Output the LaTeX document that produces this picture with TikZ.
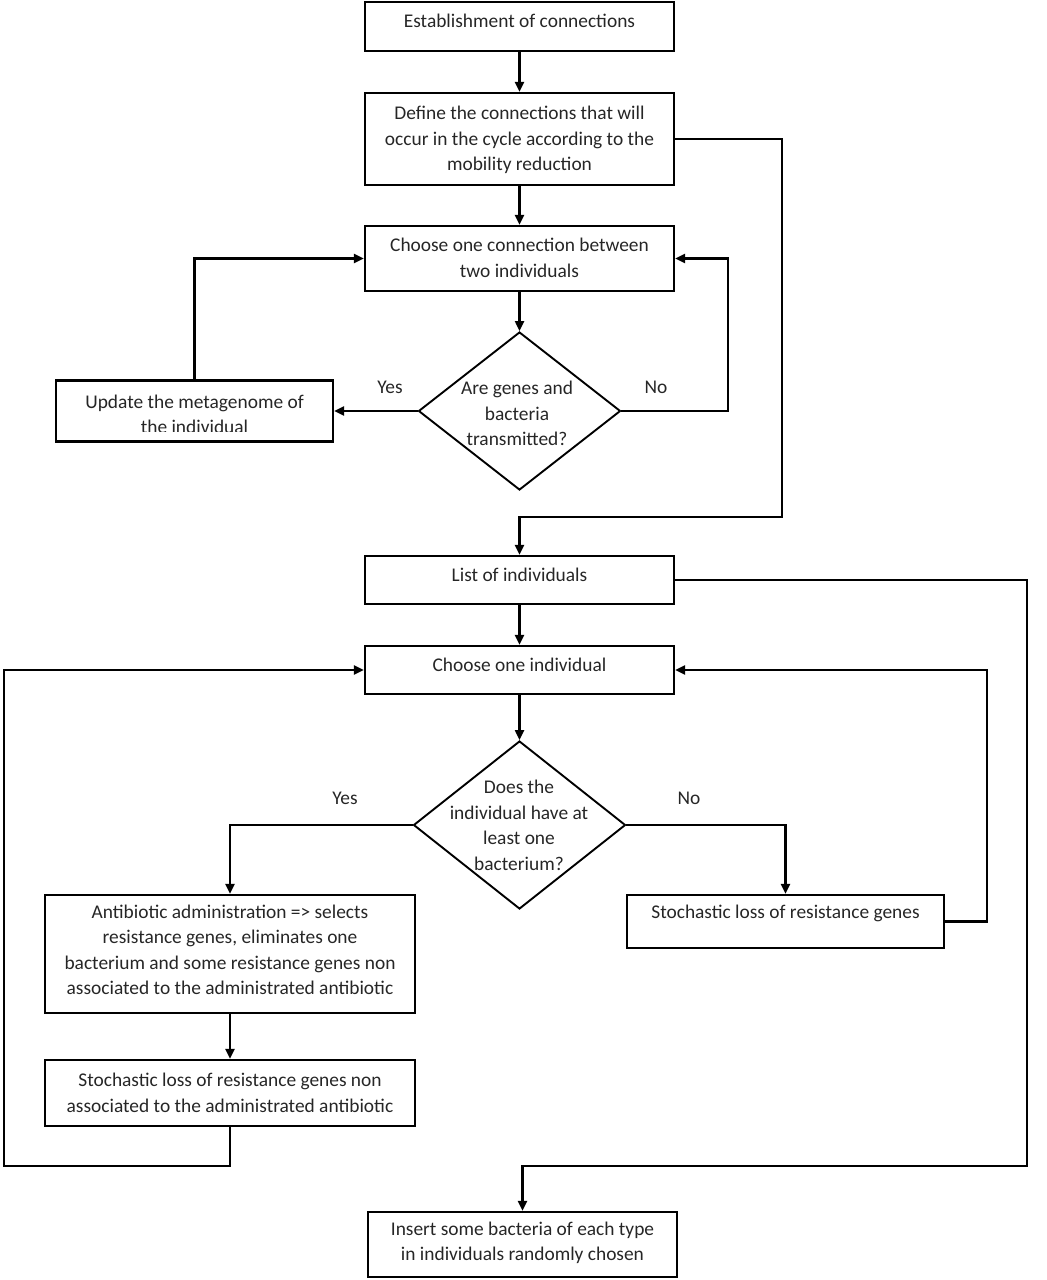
\documentclass[tikz,border=0pt]{standalone}
\usepackage{fontspec}
\setmainfont{Carlito}
\usetikzlibrary{shapes.geometric,arrows.meta}
\begin{document}
\begin{tikzpicture}[x=1pt,y=-1pt,
  box/.style={draw,line width=2.2pt,rectangle,inner sep=0pt},
  dia/.style={draw,line width=1.9pt,diamond,inner sep=0pt},
  txt/.style={font=\fontsize{19.4}{25.5}\selectfont,align=center,inner sep=0pt,text=black!85},
  lbl/.style={font=\fontsize{19.4}{25.5}\selectfont,inner sep=0pt,text=black!85},
  arr/.style={line width=2.2pt,-{Triangle[length=10pt,width=9pt]}},
  ln/.style={line width=2.2pt}]
\useasboundingbox (0,0) rectangle (1047,1280);
% boxes
\node[box,minimum width=309pt,minimum height=49pt] (b1) at (519.5,26.5) {};
\node[box,minimum width=309pt,minimum height=92pt] (b2) at (519.5,139) {};
\node[box,minimum width=309pt,minimum height=65pt] (b3) at (519.5,258.5) {};
\node[dia,minimum width=202pt,minimum height=158pt] (d1) at (519.5,411) {};
\node[box,minimum width=277pt,minimum height=61pt] (upd) at (194.5,411) {};
\node[box,minimum width=309pt,minimum height=48pt] (lst) at (519.5,580) {};
\node[box,minimum width=309pt,minimum height=48pt] (ch) at (519.5,670) {};
\node[dia,minimum width=212pt,minimum height=168pt] (d2) at (519.5,825) {};
\node[box,minimum width=317pt,minimum height=53pt] (sto) at (785.5,921.5) {};
\node[box,minimum width=370pt,minimum height=118pt] (ab) at (230,954) {};
\node[box,minimum width=370pt,minimum height=66pt] (st2) at (230,1093) {};
\node[box,minimum width=309pt,minimum height=65pt] (ins) at (522.5,1244.5) {};
% texts
\node[txt] (t1) at (519.5,21) {Establishment of connections};
\node[txt] (t2) at (519.5,140) {Define the connections that will\\occur in the cycle according to the\\mobility reduction};
\node[txt] (t3) at (519.5,258) {Choose one connection between\\two individuals};
\node[txt] (td1) at (517,413.5) {Are genes and\\bacteria\\transmitted?};
\begin{scope}
\clip (upd.north west) rectangle ([yshift=11pt]upd.south east);
\node[txt] (tupd) at (194.5,414.5) {Update the metagenome of\\the individual};
\end{scope}
\node[txt] (tl) at (519.5,575) {List of individuals};
\node[txt] (tch) at (519.5,665) {Choose one individual};
\node[txt] (td2) at (519,825.5) {Does the\\individual have at\\least one\\bacterium?};
\node[txt] (tsto) at (785.5,913) {Stochastic loss of resistance genes};
\node[txt] (tab) at (230,950) {Antibiotic administration => selects\\resistance genes, eliminates one\\bacterium and some resistance genes non\\associated to the administrated antibiotic};
\node[txt] (tst2) at (230,1093) {Stochastic loss of resistance genes non\\associated to the administrated antibiotic};
\node[txt] (tins) at (522.5,1243) {Insert some bacteria of each type\\in individuals randomly chosen};
% labels
\node[lbl] (y1) at (390,387) {Yes};
\node[lbl] (n1) at (656,387) {No};
\node[lbl] (y2) at (345,798) {Yes};
\node[lbl] (n2) at (689,798) {No};
% helper coordinates
\coordinate (c1) at (782,517);
\coordinate (c2) at (728,258.5);
\coordinate (c3) at (1027,1166);
\coordinate (c4) at (987,670);
\coordinate (c5) at (4,1166);
% connectors
\draw[arr] (b1.south) -- (b2.north);
\draw[arr] (b2.east) -| (c1) -| (lst.north);
\draw[arr] (b2.south) -- (b3.north);
\draw[arr] (b3.south) -- (d1.north);
\draw[arr] (d1.west) -- (upd.east);
\draw[arr] (d1.east) -| (c2) -- (b3.east);
\draw[arr] (upd.north) |- (b3.west);
\draw[arr] (lst.east) -| (c3) -| (ins.north);
\draw[arr] (lst.south) -- (ch.north);
\draw[arr] (ch.south) -- (d2.north);
\draw[arr] (d2.west) -| (ab.north);
\draw[arr] (d2.east) -| (sto.north);
\draw[arr] (sto.east) -| (c4) -- (ch.east);
\draw[arr] (ab.south) -- (st2.north);
\draw[arr] (st2.south) |- (c5) |- (ch.west);
\end{tikzpicture}
\end{document}
